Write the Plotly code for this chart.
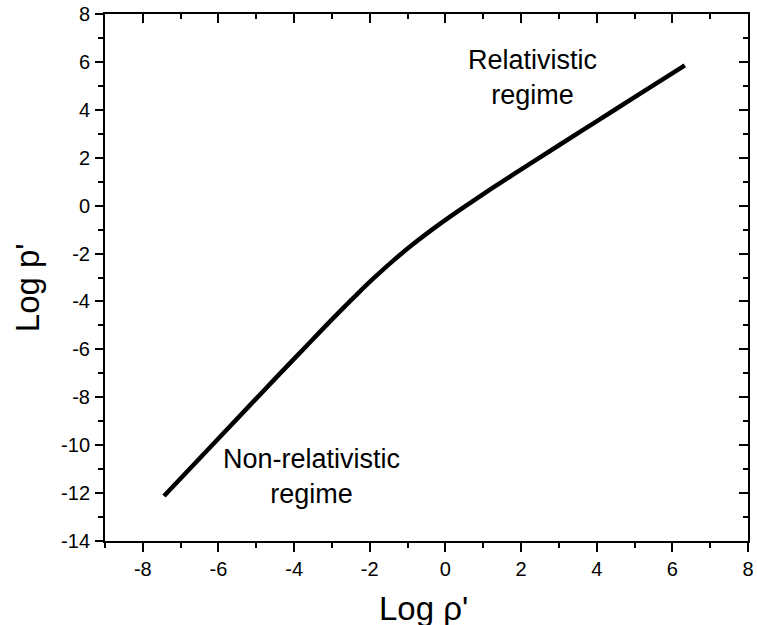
import plotly.graph_objects as go

# Equation of state of a degenerate Fermi gas (log-log, dimensionless units)
log_rho = [-7.44, -6.00, -4.47, -3.56, -3.03, -2.645, -2.344, -1.881, -1.371,
           -0.868, -0.309, 0.354, 1.216, 2.408, 3.609, 4.50, 5.40, 6.33]
log_p = [-12.12, -9.72, -7.17, -5.67, -4.80, -4.185, -3.711, -3.009, -2.285,
         -1.624, -0.948, -0.205, 0.707, 1.922, 3.130, 4.023, 4.923, 5.853]

x_range = [-9, 8]
y_range = [-14, 8]
x_ticks = [-8, -6, -4, -2, 0, 2, 4, 6, 8]
x_ticktext = ["-8", "-6", "-4", "-2", "0", "2", "4", "6", "8"]
y_ticks = [-14, -12, -10, -8, -6, -4, -2, 0, 2, 4, 6, 8]
y_ticktext = ["-14", "-12", "-10", "-8", "-6", "-4", "-2", "0", "2", "4", "6", "8"]

regime_labels = ["Relativistic<br>regime", "Non-relativistic<br>regime"]
regime_pos = [(2.29, 5.37), (-3.55, -11.30)]

FONT = "Liberation Sans, Arial, sans-serif"
W, H = 757, 625
L, R, T, B = 105, 3, 13, 84

fig = go.Figure()
fig.add_trace(go.Scatter(
    x=log_rho, y=log_p, mode="lines",
    line=dict(color="black", width=4.5, shape="spline", smoothing=0.6),
    hoverinfo="skip", showlegend=False,
))
# invisible copy that anchors the mirrored top/right axes
fig.add_trace(go.Scatter(
    x=log_rho, y=log_p, mode="lines", xaxis="x2", yaxis="y2",
    line=dict(width=0), opacity=0, hoverinfo="skip", showlegend=False,
))

tickfont = dict(family=FONT, size=20, color="black")
common = dict(showgrid=False, zeroline=False, showline=True, linecolor="black",
              linewidth=2, tickcolor="black", tickwidth=1.5)
minor_out = dict(dtick=1, ticks="outside", ticklen=5, tickcolor="black", tickwidth=1.5)
minor_in = dict(dtick=1, ticks="inside", ticklen=5, tickcolor="black", tickwidth=1.5)

fig.update_layout(
    width=W, height=H,
    margin=dict(l=L, r=R, t=T, b=B),
    paper_bgcolor="white", plot_bgcolor="white",
    xaxis=dict(range=x_range, tickmode="array", tickvals=x_ticks, ticktext=x_ticktext,
               ticks="outside", ticklen=9, tickfont=tickfont,
               ticklabeloverflow="allow", minor=minor_out, **common),
    yaxis=dict(range=y_range, tickmode="array", tickvals=y_ticks, ticktext=y_ticktext,
               ticks="outside", ticklen=8, tickfont=tickfont,
               ticklabeloverflow="allow", ticklabelstandoff=1,
               minor=minor_out, **common),
    xaxis2=dict(range=x_range, overlaying="x", side="top", anchor="y",
                tickmode="array", tickvals=x_ticks, ticks="inside", ticklen=9,
                showticklabels=False, minor=minor_in, **common),
    yaxis2=dict(range=y_range, overlaying="y", side="right", anchor="x",
                tickmode="array", tickvals=y_ticks, ticks="inside", ticklen=9,
                showticklabels=False, minor=minor_in, **common),
)

for text, (ax, ay) in zip(regime_labels, regime_pos):
    fig.add_annotation(x=ax, y=ay, xref="x", yref="y", text=text, showarrow=False,
                       xanchor="center", yanchor="middle", align="center",
                       font=dict(family=FONT, size=27, color="black"))

title_font = dict(family=FONT, size=33, color="black")
fig.add_annotation(x=-0.1202, y=0.481, xref="paper", yref="paper", text="Log p'",
                   textangle=-90, showarrow=False, xanchor="center", yanchor="middle",
                   font=title_font)
fig.add_annotation(x=0.4946, y=-0.1290, xref="paper", yref="paper", text="Log ρ'",
                   showarrow=False, xanchor="center", yanchor="middle",
                   font=title_font)

fig.write_html("out.html")
